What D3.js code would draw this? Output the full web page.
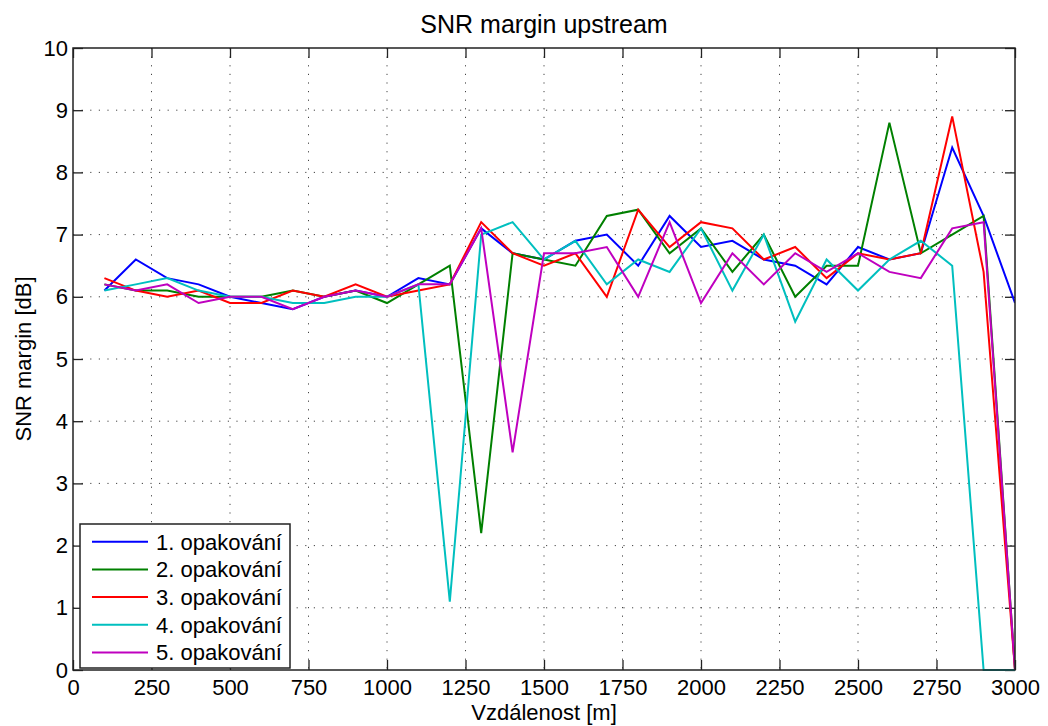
<!DOCTYPE html>
<html>
<head>
<meta charset="utf-8">
<script src="https://cdn.jsdelivr.net/npm/d3@7"></script>
<style>
  html, body { margin: 0; padding: 0; background: #fff; }
  svg { display: block; }
  text { font-family: "Liberation Sans", Arial, Helvetica, sans-serif; fill: #000; }
</style>
</head>
<body>
<svg id="chart" width="1048" height="726"></svg>
<script>
const distances = [100,200,300,400,500,600,700,800,900,1000,1100,1200,1300,1400,1500,1600,1700,1800,1900,2000,2100,2200,2300,2400,2500,2600,2700,2800,2900,3000];
const series1 = [6.1,6.6,6.3,6.2,6.0,5.9,5.8,6.0,6.1,6.0,6.3,6.2,7.1,6.7,6.6,6.9,7.0,6.5,7.3,6.8,6.9,6.6,6.5,6.2,6.8,6.6,6.7,8.4,7.3,5.9];
const series2 = [6.2,6.1,6.1,6.0,6.0,6.0,6.1,6.0,6.1,5.9,6.2,6.5,2.2,6.7,6.6,6.5,7.3,7.4,6.7,7.1,6.4,7.0,6.0,6.5,6.5,8.8,6.7,7.0,7.3,0];
const series3 = [6.3,6.1,6.0,6.1,5.9,5.9,6.1,6.0,6.2,6.0,6.1,6.2,7.2,6.7,6.5,6.7,6.0,7.4,6.8,7.2,7.1,6.6,6.8,6.3,6.7,6.6,6.7,8.9,6.4,0];
const series4 = [6.1,6.2,6.3,6.1,6.0,6.0,5.9,5.9,6.0,6.0,6.2,1.1,7.0,7.2,6.6,6.9,6.2,6.6,6.4,7.1,6.1,7.0,5.6,6.6,6.1,6.6,6.9,6.5,0,0];
const series5 = [6.2,6.1,6.2,5.9,6.0,6.0,5.8,6.0,6.1,6.0,6.2,6.2,7.1,3.5,6.7,6.7,6.8,6.0,7.2,5.9,6.7,6.2,6.7,6.4,6.7,6.4,6.3,7.1,7.2,0];
const seriesNames = ["1. opakování","2. opakování","3. opakování","4. opakování","5. opakování"];
const seriesColors = ["#0000ff","#008000","#ff0000","#00bfbf","#bf00bf"];
const xTicks = [0,250,500,750,1000,1250,1500,1750,2000,2250,2500,2750,3000];
const yTicks = [0,1,2,3,4,5,6,7,8,9,10];
const titleText = "SNR margin upstream";
const xLabel = "Vzdálenost [m]";
const yLabel = "SNR margin [dB]";

const allSeries = [series1, series2, series3, series4, series5];

const svg = d3.select("#chart");
const L = 73, R = 1015, T = 48, B = 670;
const x = d3.scaleLinear().domain([0, 3000]).range([L, R]);
const y = d3.scaleLinear().domain([0, 10]).range([B, T]);

// grid
const grid = svg.append("g");
grid.selectAll("line.gx").data(xTicks.slice(1, -1)).enter().append("line")
  .attr("x1", d => x(d)).attr("x2", d => x(d)).attr("y1", T).attr("y2", B)
  .attr("stroke", "#444").attr("stroke-width", 1).attr("stroke-dasharray", "1.2,7.4");
grid.selectAll("line.gy").data(yTicks.slice(1, -1)).enter().append("line")
  .attr("y1", d => y(d)).attr("y2", d => y(d)).attr("x1", L).attr("x2", R)
  .attr("stroke", "#444").attr("stroke-width", 1).attr("stroke-dasharray", "1.2,7.4");

// axes
const tickLen = 10;
const xAxisB = d3.axisBottom(x).tickValues(xTicks).tickSizeInner(-tickLen).tickSizeOuter(0).tickPadding(9).tickFormat(d3.format("d"));
const xAxisT = d3.axisTop(x).tickValues(xTicks).tickSizeInner(-tickLen).tickSizeOuter(0).tickFormat("");
const yAxisL = d3.axisLeft(y).tickValues(yTicks).tickSizeInner(-tickLen).tickSizeOuter(0).tickPadding(5).tickFormat(d3.format("d"));
const yAxisR = d3.axisRight(y).tickValues(yTicks).tickSizeInner(-tickLen).tickSizeOuter(0).tickFormat("");

function styleAxis(g) {
  g.select(".domain").remove();
  g.selectAll(".tick line").attr("stroke", "#222").attr("stroke-width", 1.3);
  g.selectAll(".tick text").attr("font-size", 22).attr("font-family", "'Liberation Sans', Arial, sans-serif").attr("fill", "#000");
}
svg.append("g").attr("transform", `translate(0,${B})`).call(xAxisB).call(styleAxis);
svg.append("g").attr("transform", `translate(0,${T})`).call(xAxisT).call(styleAxis);
svg.append("g").attr("transform", `translate(${L},0)`).call(yAxisL).call(styleAxis);
svg.append("g").attr("transform", `translate(${R},0)`).call(yAxisR).call(styleAxis);

// lines
const line = d3.line().x((d, i) => x(distances[i])).y(d => y(d));
const clipId = "plotclip";
svg.append("clipPath").attr("id", clipId).append("rect").attr("x", L).attr("y", T).attr("width", R - L).attr("height", B - T + 1);
const lg = svg.append("g").attr("clip-path", `url(#${clipId})`);
allSeries.forEach((s, k) => {
  lg.append("path").datum(s).attr("d", line)
    .attr("fill", "none").attr("stroke", seriesColors[k]).attr("stroke-width", 2)
    .attr("stroke-linejoin", "miter");
});

// frame
svg.append("rect").attr("x", L).attr("y", T).attr("width", R - L).attr("height", B - T)
  .attr("fill", "none").attr("stroke", "#222").attr("stroke-width", 1.5);

// legend
const lgX = 80, lgY = 524, lgW = 210, lgH = 144, rowH = 27.7;
const leg = svg.append("g");
leg.append("rect").attr("x", lgX).attr("y", lgY).attr("width", lgW).attr("height", lgH)
  .attr("fill", "#fff").attr("stroke", "#222").attr("stroke-width", 1.5);
seriesNames.forEach((name, k) => {
  const cy = lgY + 17.7 + k * rowH;
  leg.append("line").attr("x1", lgX + 12).attr("x2", lgX + 68).attr("y1", cy).attr("y2", cy)
    .attr("stroke", seriesColors[k]).attr("stroke-width", 2);
  leg.append("text").attr("x", lgX + 76).attr("y", cy).attr("dy", "0.36em")
    .attr("font-size", 22).text(name);
});

// title and labels
svg.append("text").attr("x", (L + R) / 2).attr("y", 33).attr("text-anchor", "middle")
  .attr("font-size", 25).text(titleText);
svg.append("text").attr("x", (L + R) / 2).attr("y", 720).attr("text-anchor", "middle")
  .attr("font-size", 22).text(xLabel);
svg.append("text").attr("transform", `translate(31,${(T + B) / 2}) rotate(-90)`).attr("text-anchor", "middle")
  .attr("font-size", 22).text(yLabel);
</script>
</body>
</html>
